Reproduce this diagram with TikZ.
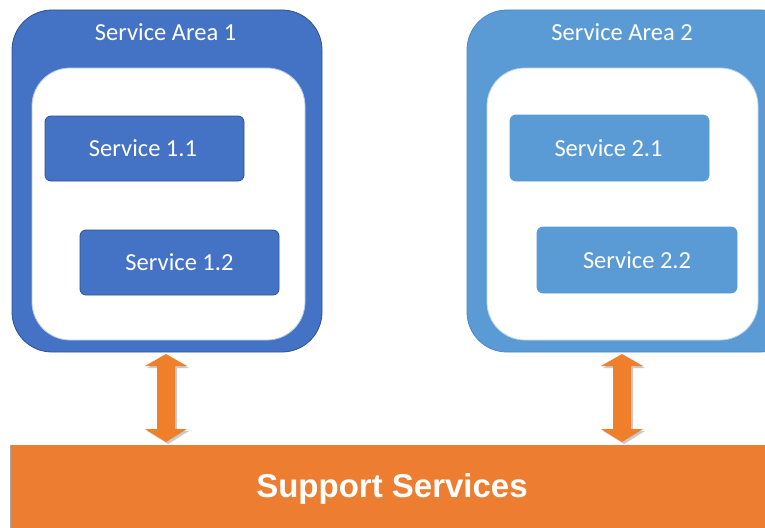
\documentclass[tikz,border=0pt]{standalone}
\usepackage{fontspec}
\setmainfont{Carlito}
\newfontfamily\boldsans{Liberation Sans}
\usetikzlibrary{shadows}
\definecolor{darkblue}{HTML}{4472C4}
\definecolor{darkblueline}{HTML}{2F528F}
\definecolor{lightblue}{HTML}{5B9BD5}
\definecolor{lightblueline}{HTML}{4A89C4}
\definecolor{orangefill}{HTML}{ED7D31}
\definecolor{arrowfill}{HTML}{F07F2C}
\tikzset{
  areabox/.style={rounded corners=40pt, line width=0.8pt},
  innerbox/.style={fill=white, rounded corners=38pt, draw=#1!40, line width=0.8pt},
  svcbox/.style={rounded corners=6pt, line width=0.8pt, text=white, font=\fontsize{24.5}{28}\selectfont},
  titletext/.style={text=white, font=\fontsize{24.5}{28}\selectfont},
  dblarrow/.style={fill=arrowfill, draw=none, drop shadow={shadow xshift=2pt, shadow yshift=-2pt, opacity=0.35, fill=black!60}}
}
\begin{document}
\begin{tikzpicture}[x=1pt,y=-1pt]
\useasboundingbox (0,0) rectangle (765,527);
\clip (0,0) rectangle (765,527);
% Service Area 1
\draw[areabox, fill=darkblue, draw=darkblueline] (12,10) rectangle (322,352);
\draw[innerbox=darkblue] (32,68) rectangle (305,340);
\node[titletext] (t1) at (165.5,32) {Service Area 1};
\node[svcbox, fill=darkblue, draw=darkblueline, minimum width=199pt, minimum height=65pt] (s11) at (144.5,148.5) {\hspace*{-3pt}Service 1.1};
\node[svcbox, fill=darkblue, draw=darkblueline, minimum width=199pt, minimum height=65pt] (s12) at (179.5,262.5) {Service 1.2};
% Service Area 2
\draw[areabox, fill=lightblue, draw=lightblueline] (467,10) rectangle (800,352);
\draw[innerbox=lightblue] (487,68) rectangle (758,340);
\node[titletext] (t2) at (622,32) {Service Area 2};
\node[svcbox, fill=lightblue, draw=lightblue, minimum width=199pt, minimum height=66pt] (s21) at (609.5,148) {\hspace*{-2pt}Service 2.1};
\node[svcbox, fill=lightblue, draw=lightblue, minimum width=200pt, minimum height=66pt] (s22) at (637,260) {Service 2.2};
% Support bar
\fill[black!35] (10,445) rectangle (12,540);
\node[fill=orangefill, minimum width=770pt, minimum height=95pt, anchor=north west, inner sep=0pt] (sup) at (11,445) {};
\node[text=white, font=\boldsans\bfseries\fontsize{33}{38}\selectfont] (st) at (392,489) {Support Services};
% arrows
\coordinate (a1t) at (166,354);
\coordinate (a2t) at (622,354);
\foreach \c in {a1t,a2t}{
  \path[dblarrow] (\c) ++(0,0) -- ++(21,12) -- ++(-12,0) -- ++(0,63) -- ++(12,0) -- ++(-21,13) -- ++(-21,-13) -- ++(12,0) -- ++(0,-63) -- ++(-12,0) -- cycle;
}
\end{tikzpicture}
\end{document}
